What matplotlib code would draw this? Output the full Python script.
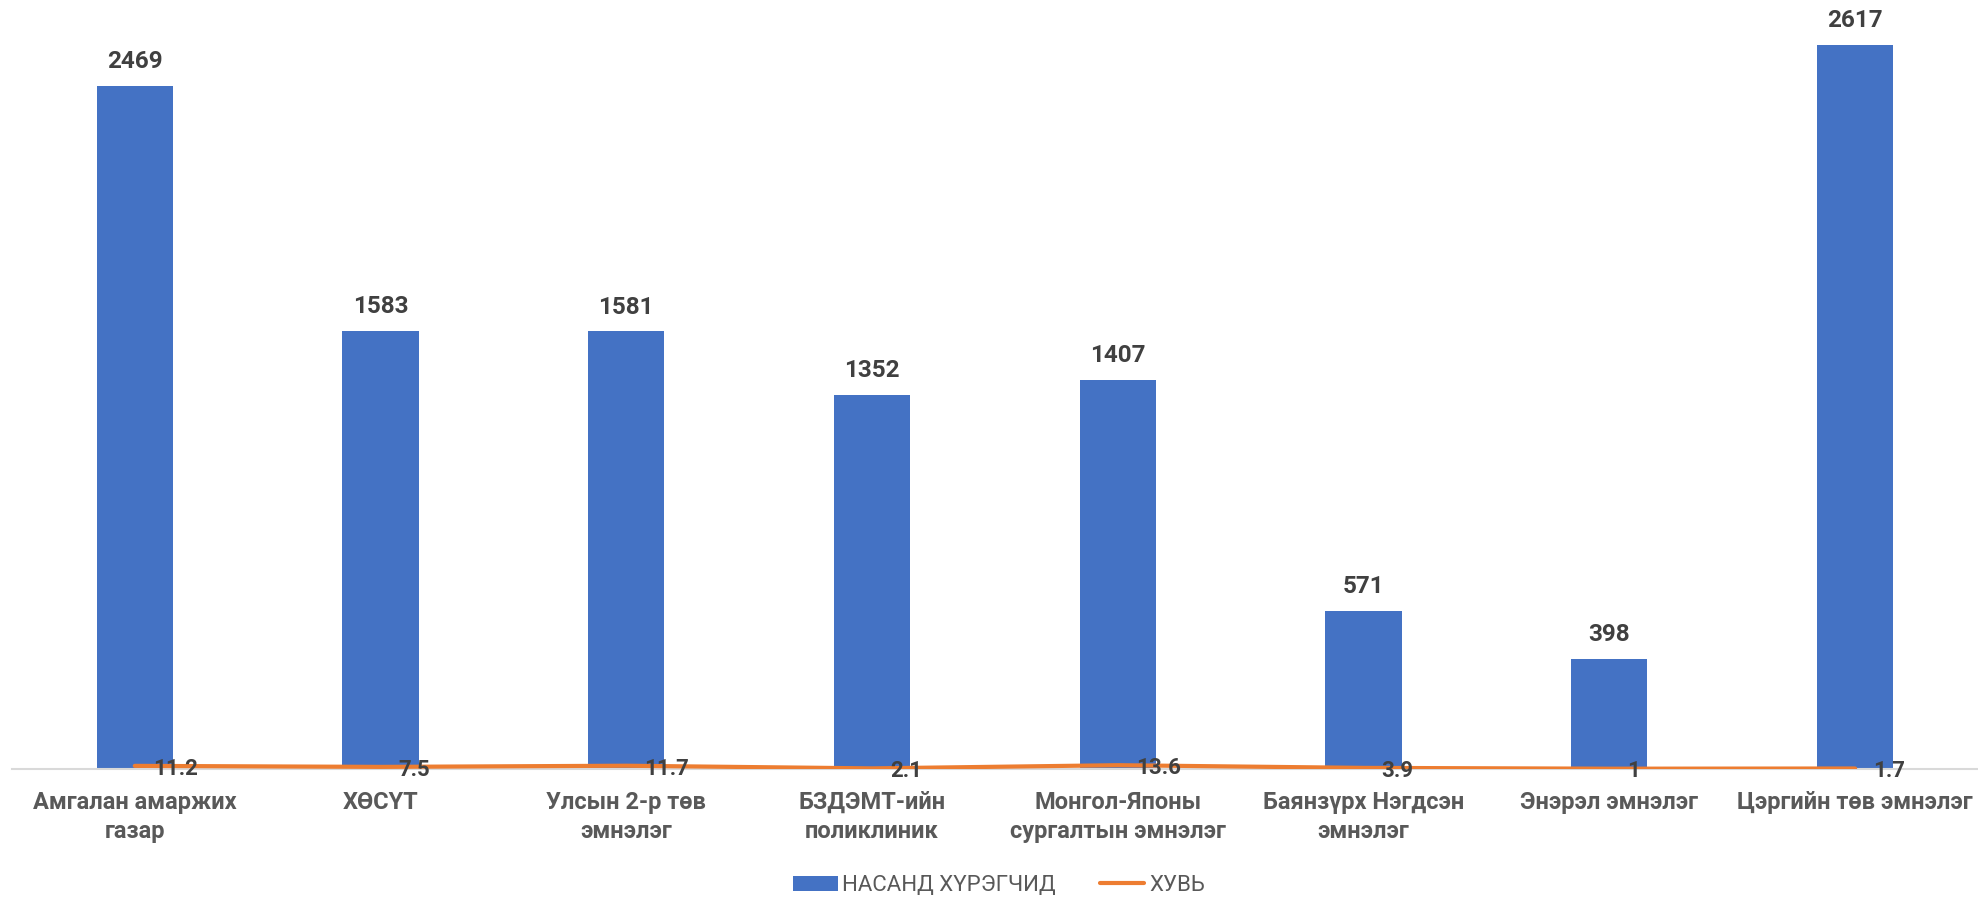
import matplotlib.pyplot as plt
import numpy as np

plt.rcParams['font.family'] = ['Roboto', 'DejaVu Sans']

# Өгөгдөл
categories = ['Амгалан амаржих\nгазар', 'ХӨСҮТ', 'Улсын 2-р төв\nэмнэлэг',
              'БЗДЭМТ-ийн\nполиклиник', 'Монгол-Японы\nсургалтын эмнэлэг',
              'Баянзүрх Нэгдсэн\nэмнэлэг', 'Энэрэл эмнэлэг', 'Цэргийн төв эмнэлэг']
adults = [2469, 1583, 1581, 1352, 1407, 571, 398, 2617]
percent = [11.2, 7.5, 11.7, 2.1, 13.6, 3.9, 1, 1.7]
percent_labels = ['11.2', '7.5', '11.7', '2.1', '13.6', '3.9', '1', '1.7']

blue = '#4472C4'
orange = '#ED7D31'

fig = plt.figure(figsize=(19.78, 9), dpi=100)
ax = fig.add_axes([0.006, 0.1456, 0.994, 0.8544])

x = np.arange(len(categories))
bars = ax.bar(x, adults, width=0.31, color=blue, label='НАСАНД ХҮРЭГЧИД', zorder=2)
line, = ax.plot(x, percent, color=orange, linewidth=3, label='ХУВЬ',
                solid_capstyle='round', zorder=3)

# Утгын шошго
for xi, v in zip(x, adults):
    ax.annotate(str(v), (xi, v), xytext=(0, 9), textcoords='offset points',
                ha='center', va='bottom', fontsize=17.5, fontweight='bold',
                color='#404040')
for xi, v, s in zip(x, percent, percent_labels):
    ax.annotate(s, (xi, v), xytext=(13, -2), textcoords='offset points',
                ha='left', va='center', fontsize=16, fontweight='bold',
                color='#404040', zorder=4)

ax.set_xlim(-0.5, len(categories) - 0.5)
ax.set_ylim(0, 2779)
ax.set_xticks(x)
ax.set_xticklabels(categories, fontsize=17, fontweight='bold', color='#595959',
                   linespacing=1.3)
ax.tick_params(axis='x', length=0, pad=16)
ax.set_yticks([])
for side in ['top', 'right', 'left']:
    ax.spines[side].set_visible(False)
ax.spines['bottom'].set_color('#D9D9D9')
ax.spines['bottom'].set_linewidth(1.5)

fig.legend(handles=[bars, line], loc='center', bbox_to_anchor=(0.505, 0.016),
           ncol=2, frameon=False, fontsize=16, labelcolor='#595959',
           handlelength=2.0, handletextpad=0.2, columnspacing=2.0)

fig.savefig('out.png', dpi=100)
